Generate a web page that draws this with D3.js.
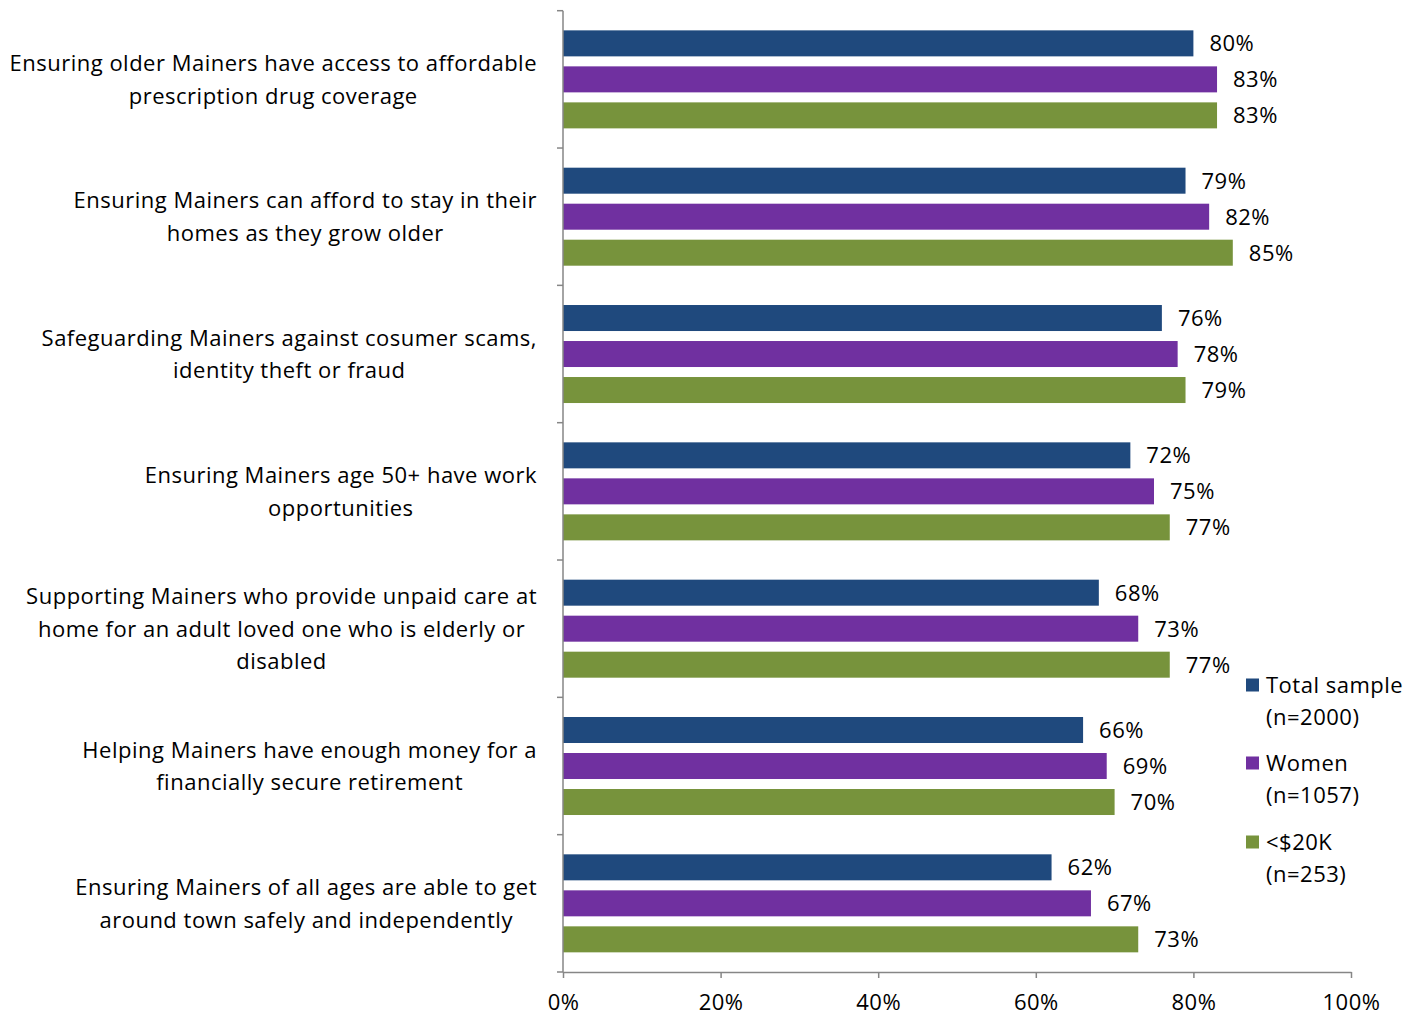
<!DOCTYPE html>
<html><head><meta charset="utf-8">
<script src="https://cdn.jsdelivr.net/npm/d3@7"></script>
<style>
body{margin:0;background:#fff;}
text{font-family:"Open Sans",Lato,sans-serif;fill:#000;letter-spacing:0.5px;}
</style></head>
<body>
<svg id="c" width="1422" height="1017"></svg>
<script>
const categories = [
  ["Ensuring older Mainers have access to affordable","prescription drug coverage"],
  ["Ensuring Mainers can afford to stay in their","homes as they grow older"],
  ["Safeguarding Mainers against cosumer scams,","identity theft or fraud"],
  ["Ensuring Mainers age 50+ have work","opportunities"],
  ["Supporting Mainers who provide unpaid care at","home for an adult loved one who is elderly or","disabled"],
  ["Helping Mainers have enough money for a","financially secure retirement"],
  ["Ensuring Mainers of all ages are able to get","around town safely and independently"]
];
const seriesNames = ["Total sample","Women","<$20K"];
const seriesSub = ["(n=2000)","(n=1057)","(n=253)"];
const totalSample = [80,79,76,72,68,66,62];
const women = [83,82,78,75,73,69,67];
const under20k = [83,85,79,77,77,70,73];
const xTicks = [0,20,40,60,80,100];
const colors = ["#1f497d","#7030a0","#77933c"];

(function(){
const values = [totalSample, women, under20k];
const svg = d3.select("#c");
const pl = 563, pr = 1351, pt = 10.7, pb = 972;
const fs = 22;

const x = d3.scaleLinear().domain([0,100]).range([pl,pr]);
const y0 = d3.scaleBand().domain(d3.range(categories.length)).range([pt,pb]).padding(0);
const y1 = d3.scaleBand().domain(d3.range(seriesNames.length)).range([0,y0.bandwidth()])
  .paddingInner(10/36).paddingOuter(0.546);

// bars
categories.forEach((c,i)=>{
  const g = svg.append("g").attr("transform",`translate(0,${y0(i)})`);
  values.forEach((vals,s)=>{
    g.append("rect").attr("x",x(0)).attr("y",y1(s)).attr("width",x(vals[i])-x(0))
      .attr("height",y1.bandwidth()).attr("fill",colors[s]);
    g.append("text").attr("x",x(vals[i])+16).attr("y",y1(s)+y1.bandwidth()/2)
      .attr("dy","0.36em").attr("font-size",fs).text(vals[i]+"%");
  });
});

// y axis
const ya = svg.append("g");
ya.append("line").attr("x1",pl).attr("x2",pl).attr("y1",pt).attr("y2",pb).attr("stroke","#868686").attr("stroke-width",1.5);
d3.range(categories.length+1).forEach(i=>{
  const yy = i<categories.length ? y0(i) : pb;
  ya.append("line").attr("x1",pl-6).attr("x2",pl).attr("y1",yy).attr("y2",yy).attr("stroke","#868686").attr("stroke-width",1.5);
});

// x axis
const xa = svg.append("g").attr("transform",`translate(0,${pb})`)
  .call(d3.axisBottom(x).tickValues(xTicks).tickFormat(d=>d+"%").tickSize(6).tickSizeOuter(0));
xa.select(".domain").attr("stroke","#868686").attr("stroke-width",1.5);
xa.selectAll(".tick line").attr("stroke","#868686").attr("stroke-width",1.5);
xa.selectAll(".tick text").attr("font-size",fs).attr("font-family","'Open Sans', sans-serif").attr("fill","#000").attr("y",30).attr("dy","0.36em");

// category labels
categories.forEach((lines,i)=>{
  const cy = y0(i)+y0.bandwidth()/2;
  const lh = 32.5;
  const g = svg.append("g");
  const ts = lines.map((l,k)=>g.append("text").attr("font-size",fs).attr("text-anchor","middle")
     .attr("y",cy+(k-(lines.length-1)/2)*lh).attr("dy","0.36em").text(l));
  const maxW = d3.max(ts, t=>t.node().getComputedTextLength());
  ts.forEach(t=>t.attr("x",537-maxW/2));
});

// legend
const ly = [685,763,842];
seriesNames.forEach((n,s)=>{
  svg.append("rect").attr("x",1246).attr("y",ly[s]-6.5).attr("width",13).attr("height",13).attr("fill",colors[s]);
  svg.append("text").attr("x",1266).attr("y",ly[s]).attr("dy","0.36em").attr("font-size",fs).text(n);
  svg.append("text").attr("x",1266).attr("y",ly[s]+32).attr("dy","0.36em").attr("font-size",fs).text(seriesSub[s]);
});
})();
</script>
</body></html>
